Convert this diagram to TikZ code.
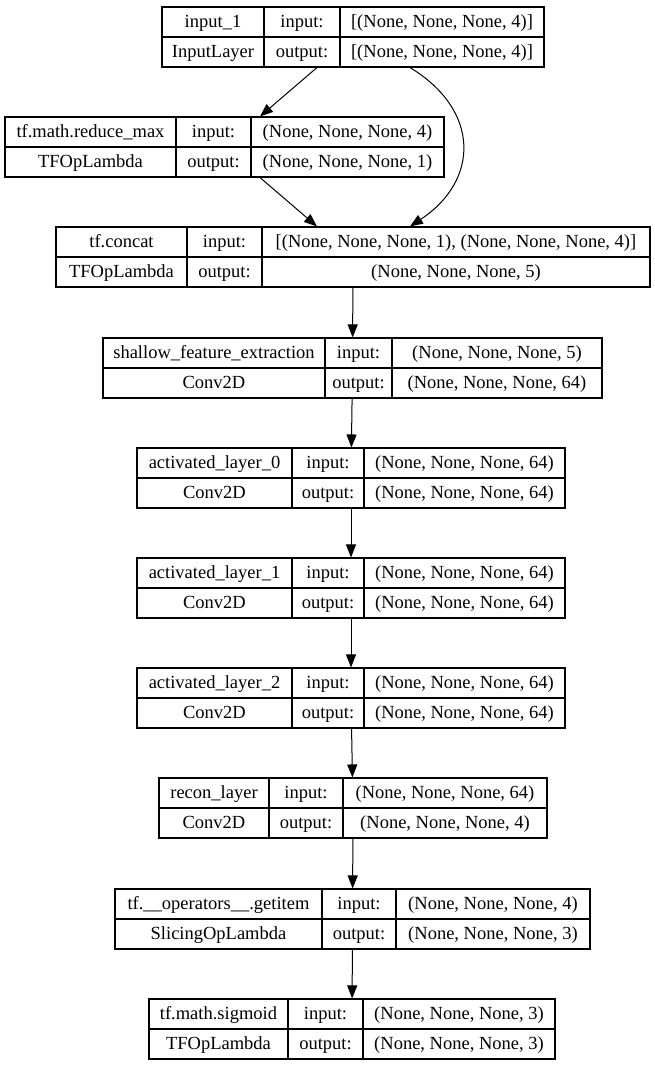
\documentclass[tikz,border=0pt]{standalone}
\usepackage{fontspec}
\setmainfont{Liberation Serif}
\usetikzlibrary{arrows.meta}
\tikzset{
    frame/.style={draw, line width=1.1pt, inner sep=0pt, minimum height=60pt},
    cell/.style={inner sep=0pt, text height=13pt, text depth=3pt,
    	font=\fontsize{18.5}{20}\selectfont},
    arr/.style={line width=1pt, -{Triangle[length=13pt, width=10pt]}}
}
% box: name, top, left, first divider, second divider, right
\newcommand{\layerframe}[6]{%
	\node[frame, minimum width=#6pt-#3pt] (#1) at ({(#3+#6)/2}, #2+30) {};
	\draw[line width=1.1pt] (#3,#2+30) -- (#6,#2+30)
		(#4,#2) -- (#4,#2+60) (#5,#2) -- (#5,#2+60);
	\coordinate (#1-a) at ({(#3+#4)/2}, #2+15);
	\coordinate (#1-b) at ({(#4+#5)/2}, #2+15);
	\coordinate (#1-c) at ({(#5+#6)/2}, #2+15);
}
% texts: name, layer, class, input shape, output shape
\newcommand{\layertext}[5]{%
	\node[cell] (#1-name) at (#1-a) {#2};
	\node[cell] (#1-type) at ([yshift=-30pt]#1-a) {#3};
	\node[cell] (#1-ilab) at (#1-b) {input:};
	\node[cell] (#1-olab) at ([yshift=-30pt]#1-b) {output:};
	\node[cell] (#1-in) at (#1-c) {#4};
	\node[cell] (#1-out) at ([yshift=-30pt]#1-c) {#5};
}

\begin{document}
\begin{tikzpicture}[x=1pt, y=-1pt]
	\useasboundingbox (0,0) rectangle (654,1069);

	\layerframe{inp}{7}{162}{264}{340}{544}
	\layertext{inp}{input\_1}{InputLayer}{[(None, None, None, 4)]}{[(None, None, None, 4)]}
	\layerframe{rmax}{117}{5}{176}{251}{444}
	\layertext{rmax}{tf.math.reduce\_max}{TFOpLambda}{(None, None, None, 4)}{(None, None, None, 1)}
	\layerframe{concat}{227}{56}{187}{262}{650}
	\layertext{concat}{tf.concat}{TFOpLambda}{[(None, None, None, 1), (None, None, None, 4)]}{(None, None, None, 5)}
	\layerframe{shallow}{338}{103}{325}{392}{602}
	\layertext{shallow}{shallow\_feature\_extraction}{Conv2D}{(None, None, None, 5)}{(None, None, None, 64)}
	\layerframe{act0}{448}{137}{292}{364}{565}
	\layertext{act0}{activated\_layer\_0}{Conv2D}{(None, None, None, 64)}{(None, None, None, 64)}
	\layerframe{act1}{558}{137}{292}{364}{565}
	\layertext{act1}{activated\_layer\_1}{Conv2D}{(None, None, None, 64)}{(None, None, None, 64)}
	\layerframe{act2}{668}{137}{292}{364}{565}
	\layertext{act2}{activated\_layer\_2}{Conv2D}{(None, None, None, 64)}{(None, None, None, 64)}
	\layerframe{recon}{778}{159}{269}{343}{547}
	\layertext{recon}{recon\_layer}{Conv2D}{(None, None, None, 64)}{(None, None, None, 4)}
	\layerframe{getitem}{889}{115}{322}{396}{590}
	\layertext{getitem}{tf.\_\_operators\_\_.getitem}{SlicingOpLambda}{(None, None, None, 4)}{(None, None, None, 3)}
	\layerframe{sigmoid}{999}{149}{288}{363}{555}
	\layertext{sigmoid}{tf.math.sigmoid}{TFOpLambda}{(None, None, None, 3)}{(None, None, None, 3)}

	\draw[arr] ([xshift=-36pt]inp.south) -- ([xshift=35.5pt]rmax.north);
	\draw[arr] ([xshift=35.5pt]rmax.south) -- ([xshift=-36pt]concat.north);
	\draw[arr] ([xshift=57pt]inp.south) .. controls (480,110) and (480,180) .. ([xshift=57pt]concat.north);

	\draw[arr] (concat) edge (shallow); \draw[arr] (shallow) edge (act0);
	\draw[arr] (act0) edge (act1); \draw[arr] (act1) edge (act2);
	\draw[arr] (act2) edge (recon); \draw[arr] (recon) edge (getitem);
	\draw[arr] (getitem) edge (sigmoid);
\end{tikzpicture}
\end{document}
